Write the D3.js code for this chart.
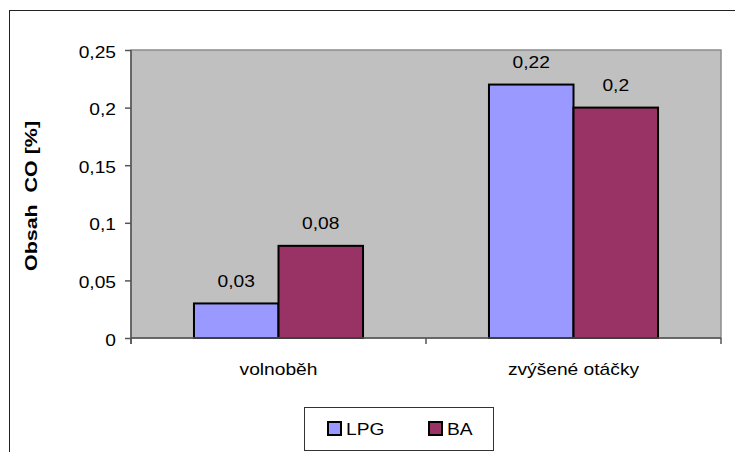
<!DOCTYPE html>
<html><head><meta charset="utf-8">
<script src="https://cdnjs.cloudflare.com/ajax/libs/d3/7.8.5/d3.min.js"></script>
<style>
html,body{margin:0;padding:0;background:#fff;}
svg{display:block;}
text{font-family:"Liberation Sans",Arial,sans-serif;font-size:16px;fill:#000;}
</style></head>
<body><svg id="c" width="735" height="452"></svg>
<script>
const categories = ["volnoběh", "zvýšené otáčky"];
const seriesNames = ["LPG", "BA"];
const lpgValues = [0.03, 0.22];
const baValues = [0.08, 0.2];
const yTicks = [0, 0.05, 0.1, 0.15, 0.2, 0.25];
const yTickLabels = ["0", "0,05", "0,1", "0,15", "0,2", "0,25"];
const valueLabels = [["0,03", "0,22"], ["0,08", "0,2"]];
const yTitle = "Obsah  CO [%]";
const colors = ["#9999FF", "#993366"];

const svg = d3.select("#c");
const K = 1.2;
function placeText(parent, x, y, str, anchor) {
  return parent.append("text")
    .attr("transform", `translate(${x},${y}) scale(${K},1)`)
    .attr("text-anchor", anchor || "middle").text(str);
}

// outer frame
svg.append("rect").attr("x", 9.5).attr("y", 10.5).attr("width", 800).attr("height", 600)
  .attr("fill", "none").attr("stroke", "#222").attr("stroke-width", 1);

const plot = {l: 131, t: 50, r: 721, b: 338};
const x0 = d3.scaleBand().domain(categories).range([plot.l, plot.r]).paddingInner(0).paddingOuter(0);
const x1 = d3.scaleBand().domain(seriesNames).range([0, x0.bandwidth()]).paddingInner(0).paddingOuter(0.745);
const y = d3.scaleLinear().domain([0, 0.25]).range([plot.b, plot.t]);

// plot area
svg.append("rect").attr("x", plot.l).attr("y", plot.t).attr("width", plot.r - plot.l).attr("height", plot.b - plot.t)
  .attr("fill", "#C0C0C0").attr("stroke", "#8c8c8c").attr("stroke-width", 1.5);

// bars
const series = [lpgValues, baValues];
const labelsG = svg.append("g");
series.forEach((vals, si) => {
  svg.append("g").selectAll("rect").data(vals).join("rect")
    .attr("x", (d, i) => x0(categories[i]) + x1(seriesNames[si]))
    .attr("y", d => y(d))
    .attr("width", x1.bandwidth())
    .attr("height", d => y(0) - y(d))
    .attr("fill", colors[si]).attr("stroke", "#000").attr("stroke-width", 2);
  vals.forEach((d, i) => {
    placeText(labelsG, x0(categories[i]) + x1(seriesNames[si]) + x1.bandwidth() / 2, y(d) - 16.5, valueLabels[si][i]);
  });
});

// axes lines
svg.append("line").attr("x1", plot.l).attr("x2", plot.r).attr("y1", plot.b).attr("y2", plot.b)
  .attr("stroke", "#555").attr("stroke-width", 1.5);
svg.append("line").attr("x1", plot.l).attr("x2", plot.l).attr("y1", plot.t).attr("y2", plot.b + 6)
  .attr("stroke", "#555").attr("stroke-width", 1.5);

// y axis
const yAxis = d3.axisLeft(y).tickValues(yTicks).tickSize(6).tickPadding(9)
  .tickFormat((d, i) => yTickLabels[i]);
const gy = svg.append("g").attr("transform", `translate(${plot.l},0)`).call(yAxis);
gy.select(".domain").remove();
gy.selectAll(".tick line").attr("stroke", "#555").attr("stroke-width", 1.5);
gy.selectAll(".tick text").attr("font-size", null).attr("font-family", null)
  .attr("x", null).attr("dy", null)
  .attr("transform", `translate(-15,7) scale(${K},1)`);

// x ticks at category boundaries
const bounds = [plot.l, ...categories.map(c => x0(c) + x0.bandwidth())];
svg.append("g").selectAll("line").data(bounds).join("line")
  .attr("x1", d => d).attr("x2", d => d).attr("y1", plot.b).attr("y2", plot.b + 6)
  .attr("stroke", "#555").attr("stroke-width", 1.5);
const xg = svg.append("g");
categories.forEach(c => placeText(xg, x0(c) + x0.bandwidth() / 2, 375, c));

// y title
svg.append("text").attr("transform", "translate(37,196) rotate(-90) scale(1.3,1)")
  .attr("text-anchor", "middle").attr("font-weight", "bold")
  .style("font-size", "16.5px").style("white-space", "pre").text(yTitle);

// legend
const lg = svg.append("g");
lg.append("rect").attr("x", 304.5).attr("y", 407.5).attr("width", 189).attr("height", 43)
  .attr("fill", "#fff").attr("stroke", "#333").attr("stroke-width", 1);
const legX = [327, 428];
seriesNames.forEach((s, i) => {
  lg.append("rect").attr("x", legX[i] + 1).attr("y", 422).attr("width", 13).attr("height", 13)
    .attr("fill", colors[i]).attr("stroke", "#000").attr("stroke-width", 2);
  placeText(lg, legX[i] + 19, 434.5, s, "start");
});
</script></body></html>
